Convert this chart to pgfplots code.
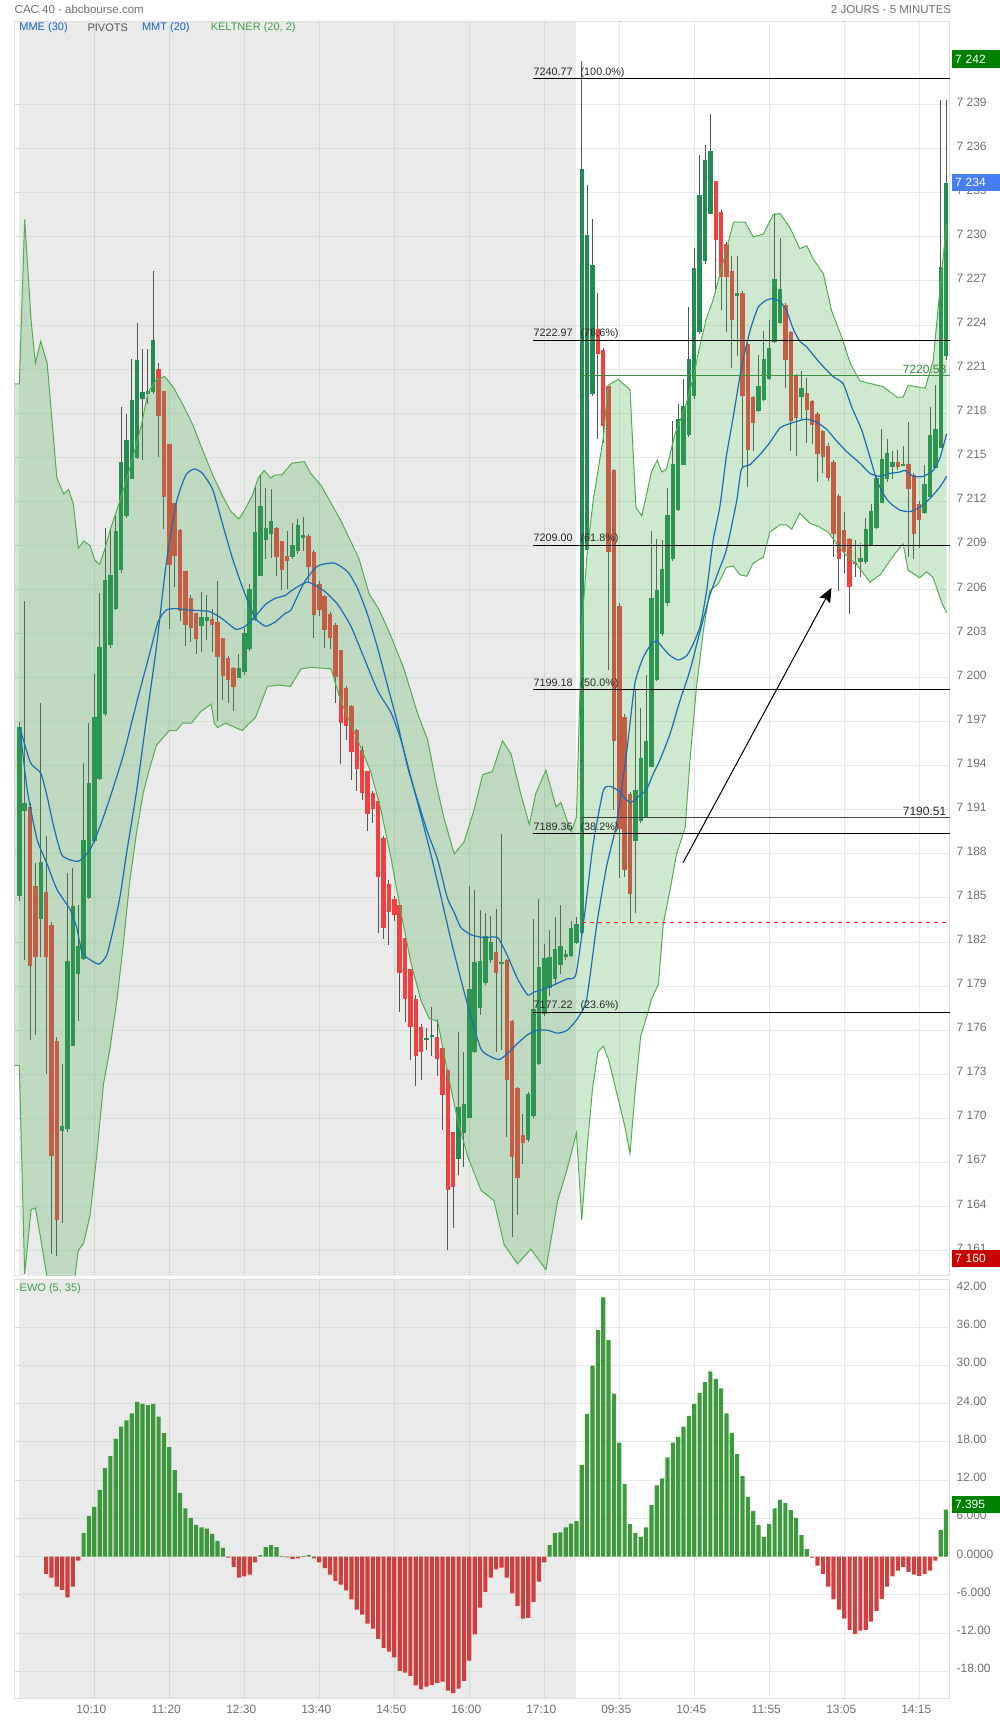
\documentclass[border=0pt]{standalone}
\usepackage{fontspec}
\setmainfont{Liberation Sans}
\usepackage{pgfplots}
\usepackage{pgfplotstable}
\pgfplotsset{compat=1.18}
\usetikzlibrary{arrows.meta}

\definecolor{dayone}{RGB}{234,234,234}
\definecolor{gridg}{RGB}{204,223,204}
\definecolor{gridh}{RGB}{214,227,214}
\definecolor{gridw}{RGB}{232,232,232}
\definecolor{frame}{RGB}{222,222,222}
\definecolor{candup}{RGB}{36,140,82}
\definecolor{canddn}{RGB}{240,64,64}
\definecolor{wick}{RGB}{85,85,85}
\definecolor{kelt}{RGB}{76,175,80}
\definecolor{keltline}{RGB}{84,172,84}
\definecolor{mmblue}{RGB}{28,110,180}
\definecolor{ticktext}{RGB}{112,112,112}
\definecolor{fibtext}{RGB}{40,40,40}
\definecolor{ewogreen}{RGB}{40,145,40}
\definecolor{ewored}{RGB}{205,45,45}
\definecolor{legblue}{RGB}{21,101,192}
\definecolor{leggreen}{RGB}{67,160,71}
\definecolor{boxgreen}{RGB}{0,128,0}
\definecolor{boxblue}{RGB}{70,125,245}
\definecolor{boxred}{RGB}{200,0,0}

\newcommand{\tickfont}{\fontsize{6pt}{7pt}\selectfont}
\newcommand{\legfont}{\fontsize{5.5pt}{6.5pt}\selectfont}
\newcommand{\fibfont}{\fontsize{5.4pt}{6.4pt}\selectfont}
\newcommand{\titlefont}{\fontsize{5.75pt}{6.75pt}\selectfont}

\pgfplotsset{
  candle/.style={only marks, mark=*, mark size=0pt, mark options={draw opacity=0, fill opacity=0},
    error bars/.cd, y dir=both, y explicit, error mark=none},
}

% candles, close >= open
\pgfplotstableread{
i o h l c
0 7185.2 7197.0 7184.8 7196.7
1 7191.0 7205.3 7180.9 7191.6
4 7183.6 7198.4 7181.1 7187.5
8 7169.3 7173.7 7162.9 7169.6
9 7169.4 7186.8 7169.2 7180.8
10 7175.1 7187.0 7174.9 7184.6
11 7179.9 7184.7 7176.8 7181.8
12 7181.0 7194.3 7180.9 7189.1
13 7185.0 7196.9 7184.9 7192.8
14 7189.0 7200.4 7188.9 7197.5
15 7193.2 7205.8 7193.1 7202.2
16 7197.7 7210.3 7197.5 7206.8
17 7202.3 7210.3 7202.2 7207.1
18 7204.7 7211.0 7204.6 7210.0
19 7207.4 7218.6 7207.3 7214.7
20 7211.0 7218.0 7210.9 7216.2
21 7213.6 7221.7 7213.5 7219.0
22 7215.0 7224.2 7214.9 7221.7
23 7219.0 7222.5 7214.9 7219.5
24 7219.3 7222.5 7218.7 7219.5
25 7219.5 7227.8 7219.4 7223.0
34 7203.6 7205.9 7201.8 7204.2
35 7203.9 7205.7 7202.6 7204.2
41 7200.1 7201.6 7200.0 7200.8
42 7200.4 7203.5 7200.3 7203.1
43 7202.0 7206.5 7201.9 7206.1
44 7204.0 7213.0 7203.9 7210.0
45 7207.1 7213.8 7207.0 7211.8
46 7209.4 7213.0 7208.2 7210.2
47 7209.8 7212.9 7208.2 7210.7
51 7208.2 7210.6 7208.1 7209.0
52 7208.6 7210.9 7208.5 7210.4
53 7209.6 7211.0 7208.7 7209.8
76 7175.5 7176.2 7174.7 7175.6
77 7175.6 7177.6 7174.3 7175.7
82 7167.4 7176.0 7166.3 7170.9
83 7169.1 7174.6 7166.8 7171.1
84 7170.1 7185.8 7170.0 7178.9
85 7174.6 7185.6 7174.5 7180.7
86 7177.6 7184.2 7177.1 7180.8
87 7179.2 7184.0 7179.1 7182.4
88 7180.8 7183.9 7180.7 7182.0
90 7180.7 7189.4 7174.7 7180.8
95 7168.6 7171.9 7168.5 7171.7
96 7170.2 7183.6 7170.1 7177.5
97 7173.8 7185.0 7173.7 7180.4
98 7177.1 7181.9 7177.0 7180.9
99 7178.9 7182.9 7178.4 7181.0
100 7179.5 7183.8 7179.2 7181.5
101 7180.5 7184.6 7179.9 7181.8
102 7181.0 7181.5 7180.8 7181.2
103 7181.1 7183.5 7181.0 7183.0
104 7182.1 7183.8 7182.0 7183.4
105 7182.7 7242.1 7182.6 7234.7
106 7208.7 7233.7 7208.6 7230.1
107 7219.4 7231.3 7219.3 7228.2
115 7188.8 7199.4 7184.1 7192.3
116 7190.3 7198.0 7190.2 7194.6
117 7190.6 7200.2 7190.5 7195.8
118 7194.1 7210.0 7194.0 7205.6
119 7199.9 7209.5 7199.8 7206.0
120 7203.0 7209.4 7202.9 7207.4
121 7205.1 7213.0 7205.0 7211.1
122 7208.1 7217.5 7208.0 7214.6
123 7211.5 7218.7 7211.4 7217.7
124 7214.6 7220.4 7214.5 7218.6
125 7216.5 7225.3 7216.4 7221.7
126 7219.2 7229.4 7219.1 7227.9
127 7223.6 7235.7 7223.5 7232.9
128 7228.3 7236.3 7228.2 7235.2
129 7231.7 7238.4 7231.6 7236.0
134 7226.1 7228.8 7222.0 7226.3
138 7218.2 7222.0 7218.1 7219.9
139 7219.0 7223.7 7218.9 7221.8
140 7220.4 7224.4 7220.3 7222.5
141 7222.9 7231.7 7222.8 7227.2
142 7224.3 7230.1 7224.2 7226.6
146 7219.1 7220.9 7217.6 7219.7
157 7207.8 7209.2 7206.9 7208.1
158 7208.0 7211.0 7207.9 7210.3
159 7209.1 7211.9 7209.0 7211.4
160 7210.3 7213.8 7210.2 7213.7
161 7212.0 7216.9 7211.9 7215.0
162 7213.6 7216.4 7213.5 7215.4
163 7214.5 7215.5 7213.6 7214.8
165 7214.6 7215.8 7214.5 7214.7
169 7211.3 7214.5 7211.2 7213.3
170 7212.3 7218.5 7212.2 7216.5
171 7214.4 7220.0 7214.3 7217.0
172 7215.8 7239.3 7215.7 7228.1
173 7221.9 7239.5 7221.8 7233.7
}\candup

% candles, close < open
\pgfplotstableread{
i o h l c
2 7191.3 7191.5 7175.4 7180.5
3 7185.9 7187.5 7175.8 7181.1
5 7185.5 7189.2 7173.0 7181.1
6 7183.2 7183.4 7160.8 7167.5
7 7175.4 7175.6 7160.7 7163.2
26 7221.1 7221.5 7215.1 7217.9
27 7219.5 7219.6 7210.2 7212.3
28 7215.9 7216.0 7203.4 7207.7
29 7211.9 7212.0 7206.3 7208.3
30 7210.1 7210.2 7203.9 7204.6
31 7207.3 7207.4 7202.3 7203.6
32 7205.5 7205.6 7202.4 7203.5
33 7204.5 7204.6 7201.8 7202.7
36 7204.1 7204.8 7201.9 7203.7
37 7203.9 7206.6 7197.1 7201.5
38 7202.7 7202.8 7198.6 7200.1
39 7201.4 7201.5 7198.3 7199.9
40 7200.7 7200.8 7197.8 7199.4
48 7210.2 7210.3 7207.0 7208.2
49 7209.3 7209.4 7206.1 7207.3
50 7208.3 7210.0 7206.1 7208.0
54 7209.7 7209.8 7206.5 7207.6
55 7208.7 7208.8 7202.8 7204.4
56 7206.5 7206.6 7204.2 7204.7
57 7205.6 7205.7 7202.1 7203.3
58 7204.4 7204.5 7202.0 7202.8
59 7203.7 7203.8 7198.3 7200.2
60 7201.9 7202.0 7194.2 7196.9
61 7199.4 7199.5 7195.8 7196.8
62 7198.1 7198.2 7193.1 7195.0
63 7196.5 7196.6 7192.4 7193.8
64 7195.2 7195.3 7191.6 7192.3
65 7193.7 7193.8 7189.7 7190.8
66 7192.3 7192.4 7190.2 7191.2
67 7191.7 7191.8 7182.7 7186.5
68 7189.1 7189.2 7182.2 7183.0
69 7186.1 7186.2 7181.8 7184.2
70 7185.1 7185.2 7183.5 7184.0
71 7184.6 7184.7 7177.2 7180.0
72 7182.3 7182.4 7176.7 7178.2
73 7180.2 7180.3 7174.1 7176.3
74 7178.3 7178.4 7172.2 7174.4
75 7176.4 7176.5 7172.7 7174.7
78 7175.7 7176.8 7172.9 7174.2
79 7174.9 7175.0 7169.2 7171.7
80 7173.3 7173.4 7161.1 7165.1
81 7169.1 7169.2 7162.7 7165.4
89 7181.4 7184.4 7174.7 7180.0
91 7180.8 7180.9 7168.8 7172.6
92 7176.7 7176.8 7162.0 7167.4
93 7172.1 7172.2 7163.5 7166.0
94 7169.0 7170.3 7166.9 7168.4
108 7223.8 7226.2 7216.3 7222.1
109 7222.4 7222.5 7216.0 7217.2
110 7219.9 7220.0 7200.7 7208.6
111 7214.2 7214.3 7191.1 7195.8
112 7205.0 7205.1 7186.4 7189.8
113 7197.4 7197.5 7186.4 7187.0
114 7192.2 7192.3 7183.5 7185.4
130 7233.8 7233.9 7226.3 7229.8
131 7231.8 7231.9 7225.1 7227.4
132 7229.6 7229.7 7223.6 7227.3
133 7227.7 7228.8 7221.2 7224.4
135 7226.3 7226.4 7214.4 7219.3
136 7222.7 7222.8 7213.0 7215.5
137 7219.1 7219.2 7215.5 7217.3
143 7225.5 7225.6 7219.8 7221.8
144 7223.6 7223.7 7215.5 7217.5
145 7220.6 7220.7 7215.1 7217.7
147 7219.4 7220.5 7216.1 7218.3
148 7218.9 7219.0 7216.0 7217.3
149 7218.1 7218.2 7213.4 7215.4
150 7216.8 7216.9 7214.0 7215.0
151 7215.9 7216.0 7213.4 7213.7
152 7214.8 7214.9 7208.3 7209.9
153 7212.4 7212.5 7205.9 7208.1
154 7210.2 7211.4 7207.2 7208.7
155 7209.5 7209.6 7204.4 7206.2
156 7207.9 7209.4 7206.9 7207.8
164 7214.7 7215.6 7214.2 7214.4
166 7214.7 7217.5 7208.3 7213.0
167 7213.9 7214.0 7208.2 7209.9
168 7211.9 7212.0 7208.8 7210.8
}\canddn

% Keltner (20, 2) upper band
\pgfplotstableread{
x y
-0.9 7220.0
0 7220.0
1 7231.2
2.2 7224.3
3 7221.4
4 7222.9
5.2 7221.4
7 7213.6
8.3 7212.5
9.2 7212.8
10.1 7211.8
11 7208.8
12 7209.3
13.2 7209.0
14.1 7208.0
15 7207.7
16 7208.8
17 7210.1
18.2 7211.4
19.7 7213.1
21.2 7215.0
22.8 7217.2
24 7219.4
25.6 7220.3
27.1 7220.5
28.7 7219.8
30.5 7218.6
32.4 7217.2
34.2 7215.5
36.1 7213.8
37.9 7212.4
39.5 7211.3
41 7210.8
42.2 7211.5
43.5 7212.4
44.6 7213.6
45.7 7214.1
46.9 7213.6
47.8 7213.8
49 7213.8
50.9 7214.6
53.2 7214.7
54.4 7213.9
56.3 7213.1
60 7210.7
63.4 7208.1
65.3 7205.7
67.2 7204.6
69.4 7202.8
71.8 7200.6
74.3 7197.6
76.2 7195.8
77.8 7192.8
79.3 7190.4
81.2 7188.0
83 7188.8
84.9 7191.0
86.5 7193.4
88.3 7193.6
90.2 7195.7
91.8 7194.8
93.6 7192.1
95.2 7190.0
96.4 7192.1
98.3 7193.7
100.2 7191.2
101.1 7191.5
103 7189.5
104 7190.5
105 7203.5
106 7208.5
107.1 7212.0
109 7216.3
109.9 7219.9
111.8 7220.3
114 7219.6
115.1 7211.6
116.2 7211.0
118 7214.0
119.1 7214.8
119.9 7214.0
120.8 7214.2
122.4 7216.6
124.3 7218.4
125.8 7220.4
127.1 7222.7
128.3 7224.5
129.5 7225.7
131.4 7228.3
133.3 7231.0
135.5 7231.0
137 7230.0
138.9 7230.2
140.7 7231.5
142 7231.6
143.9 7230.6
145.7 7229.2
147 7229.4
148.2 7228.5
150.1 7227.5
151.6 7225.0
153.5 7223.2
155.1 7221.4
156.9 7220.2
159.1 7220.0
161.3 7219.8
163.8 7219.1
165 7219.1
165.9 7219.9
167.5 7219.8
169.1 7219.7
170.6 7221.6
171.9 7226.6
173.1 7230.9
}\kup

% Keltner (20, 2) lower band, listed right to left so that it closes the band outline
\pgfplotstableread{
x y
173.1 7204.4
172.2 7205.1
170.6 7206.8
169.4 7207.2
168.1 7206.8
165.9 7207.3
165 7209.1
163.8 7208.6
162.2 7207.8
160.7 7207.0
158.8 7206.5
156.3 7207.7
154.4 7208.3
152.6 7209.1
151 7209.9
149.1 7210.3
147.6 7210.5
145.7 7211.2
144.2 7210.1
143.2 7210.4
142 7210.4
140.1 7209.9
138.9 7208.2
137 7207.8
135.8 7206.9
134.5 7207.0
133.3 7207.6
132 7207.5
130.5 7206.4
128.9 7205.9
127.7 7203.2
126.4 7199.3
125.2 7194.4
124.3 7189.8
122.7 7188.0
121.5 7185.6
120.2 7183.2
119.3 7179.1
118 7178.1
117 7176.8
116 7175.6
115 7172.0
114 7167.6
113 7169.5
112 7171.0
111 7172.5
110 7174.0
109 7174.9
108 7174.5
107 7172.0
106 7168.0
105 7163.1
104 7169.0
102.3 7166.6
100.5 7164.4
98.3 7159.7
95.5 7161.1
93 7160.1
90.5 7161.4
88.6 7164.4
86.2 7165.1
83.7 7167.4
81.8 7169.9
79.9 7173.2
78.1 7176.6
76.5 7176.8
75 7178.0
73.1 7180.6
71.2 7184.1
69.4 7187.7
67.5 7191.0
65.6 7193.6
63.1 7195.8
60 7198.4
58.2 7200.6
54.4 7200.7
52.6 7200.6
50.6 7199.4
48.4 7199.5
46.3 7199.4
44.1 7197.3
41.6 7196.4
38.5 7196.9
37 7196.6
36.4 7196.9
35.8 7198.2
33.9 7197.7
32.1 7196.9
30.5 7196.9
29.3 7196.4
28 7196.4
26.8 7195.9
25.6 7195.4
24.3 7193.8
23.1 7192.1
21.9 7189.5
20.6 7186.1
19.4 7181.8
18.2 7178.0
16.9 7174.7
15.7 7172.3
14.4 7167.3
13.2 7163.4
12 7161.5
11 7161.0
10.4 7159.3
8.5 7157.2
6.5 7157.6
5.2 7159.1
4 7161.8
3 7163.9
2.2 7163.8
1 7159.4
0 7173.6
-0.9 7173.6
}\klo

\pgfplotstablevertcat{\kband}{\kup}
\pgfplotstablevertcat{\kband}{\klo}

% the two moving averages
\pgfplotstableread{
x y
0.1 7196.6
2.1 7194.2
4 7193.5
5.2 7191.9
6.4 7189.9
8 7187.9
11 7187.5
13.2 7188.3
15.1 7189.9
16.9 7191.8
19.4 7194.7
21.9 7198.3
24.3 7201.6
25.9 7203.8
27.4 7204.6
29.3 7204.7
31.7 7204.6
35.5 7204.5
37.9 7204.0
40.4 7203.3
42.2 7203.5
44.1 7204.2
46 7205.0
47.8 7205.4
49.7 7205.6
50.7 7205.9
53.8 7206.5
56.9 7205.9
59.4 7205.0
61.9 7203.5
64.4 7201.3
66.9 7199.1
69.4 7197.6
71.2 7195.8
73.1 7193.2
75 7190.6
76.8 7188.0
78.7 7185.1
80.6 7182.1
82.4 7179.5
84.3 7176.9
86.2 7174.7
88 7174.2
89.6 7174.0
91.1 7174.4
93 7175.1
94.9 7175.7
96.7 7176.0
98.6 7176.0
100.5 7175.8
102.3 7176.0
104.2 7176.8
105.9 7178.1
107.8 7183.2
109.6 7187.1
111.5 7190.1
113.4 7195.0
114.9 7199.6
116.5 7201.4
118 7202.3
119 7202.5
120.2 7202.0
121.5 7201.5
123 7201.2
124.6 7201.5
125.8 7202.3
127.1 7203.5
128.3 7205.9
129.5 7209.3
130.8 7211.7
132 7215.1
133.3 7217.8
134.8 7221.1
136.4 7223.6
137.9 7225.2
139.5 7225.7
140.7 7225.8
142 7225.6
143.2 7225.0
144.5 7223.7
145.7 7222.9
147 7222.5
149.5 7221.4
151.9 7220.5
153.8 7220.0
155.4 7218.4
157.2 7216.9
158.8 7215.0
160 7213.5
161.3 7212.5
162.5 7211.9
164.4 7211.4
166.3 7211.3
168.1 7211.6
170 7212.2
171.9 7213.0
173.1 7213.7
}\mmone

\pgfplotstableread{
x y
0.1 7196.6
1.5 7192.3
3.3 7189.0
5.2 7187.3
7 7185.6
9.5 7184.2
10.7 7183.0
11.7 7181.3
13.2 7180.8
14.9 7180.5
16.3 7181.1
17.5 7182.8
18.8 7185.1
20 7188.0
21.9 7192.3
23.7 7197.1
25.6 7202.1
27.4 7207.7
29.3 7211.9
31.1 7213.8
32.7 7214.2
34.2 7213.9
36.1 7212.8
37.9 7210.5
39.8 7208.1
41.6 7206.2
42.9 7205.0
44.1 7204.0
46 7203.5
47.8 7203.8
49.7 7204.4
50.7 7204.6
53.2 7206.5
55.7 7207.6
58.8 7207.8
61.3 7207.2
63.1 7206.1
65 7204.3
66.9 7202.0
68.7 7199.5
70.6 7196.9
72.5 7193.9
74.3 7191.7
76.2 7189.5
78.1 7187.6
79.9 7185.0
81.2 7184.0
82.4 7183.0
84.3 7182.5
86.8 7182.3
89.3 7182.3
91.2 7181.0
93 7179.5
94.9 7178.4
96.1 7178.6
98 7178.8
100.5 7179.2
102.3 7179.5
103.9 7179.8
105.6 7184.1
107.1 7188.6
109 7192.3
110.3 7192.6
111.8 7192.3
114 7191.5
115.9 7192.0
117.1 7192.4
118.4 7193.5
119.6 7194.4
121.5 7196.2
123.3 7198.4
125.2 7200.5
127.1 7203.2
128.9 7205.6
130.8 7207.5
132 7208.7
133.9 7212.0
134.8 7214.2
136.4 7214.5
138.3 7215.2
140.1 7216.0
142 7217.0
143.9 7217.3
145.7 7217.5
147 7217.6
148.8 7217.4
150.7 7216.9
152.6 7216.1
154.4 7215.4
156.9 7214.6
158.8 7213.9
160.7 7213.7
162.5 7213.9
164.4 7214.0
165.3 7214.1
166.9 7213.7
168.7 7213.7
170.6 7214.1
171.9 7215.0
173.1 7216.6
}\mmtwo

% EWO (5, 35)
\pgfplotstableread{
i v
12 3.7
13 6.4
14 7.8
15 10.5
16 13.9
17 15.8
18 18.5
19 20.4
20 21.4
21 22.5
22 24.3
23 24.0
24 23.8
25 24.0
26 22.0
27 19.4
28 17.2
29 13.6
30 10.0
31 7.6
32 6.1
33 5.0
34 4.6
35 4.4
36 3.6
37 2.5
38 1.4
45 0.26
46 1.5
47 1.8
48 1.5
49 0.1
53 0.1
54 0.26
99 1.8
100 3.7
101 3.8
102 4.6
103 5.2
104 5.6
105 14.4
106 22.4
107 30.0
108 35.6
109 40.7
110 34.0
111 25.6
112 17.9
113 11.4
114 5.1
115 3.7
116 3.1
117 4.6
118 8.1
119 11.2
120 12.3
121 15.6
122 17.9
123 18.8
124 20.4
125 22.1
126 24.0
127 25.7
128 27.4
129 29.1
130 27.9
131 26.4
132 22.5
133 19.4
134 16.1
135 12.7
136 9.4
137 7.2
138 5.0
139 3.1
140 5.1
141 7.6
142 8.9
143 8.4
144 7.3
145 6.1
146 3.4
147 1.2
172 4.2
173 7.395
}\ewopos

\pgfplotstableread{
i v
5 -2.7
6 -3.3
7 -4.7
8 -5.2
9 -6.4
10 -4.7
11 -0.6
39 -0.15
40 -1.6
41 -3.3
42 -3.1
43 -2.8
44 -0.9
50 -0.1
51 -0.4
52 -0.26
55 -0.26
56 -0.9
57 -1.8
58 -2.8
59 -3.8
60 -4.4
61 -5.3
62 -6.7
63 -8.3
64 -9.1
65 -10.5
66 -11.3
67 -12.9
68 -14.3
69 -14.9
70 -15.8
71 -17.9
72 -18.2
73 -18.7
74 -20.2
75 -20.8
76 -20.4
77 -20.1
78 -19.8
79 -19.6
80 -21.0
81 -21.4
82 -20.7
83 -19.5
84 -16.3
85 -12.2
86 -8.0
87 -5.5
88 -3.3
89 -2.0
90 -1.7
91 -3.3
92 -5.75
93 -7.7
94 -9.7
95 -9.6
96 -7.1
97 -3.9
98 -0.9
148 -0.15
149 -1.4
150 -2.7
151 -4.7
152 -6.7
153 -8.3
154 -9.7
155 -11.5
156 -12.1
157 -11.6
158 -11.5
159 -10.2
160 -8.5
161 -6.6
162 -4.7
163 -3.1
164 -2.2
165 -1.6
166 -2.4
167 -2.8
168 -3.0
169 -2.7
170 -2.2
171 -0.6
}\eweneg

\begin{document}
\begin{tikzpicture}
\fill[white] (0,0) rectangle (500pt,860pt);

% ---- price panel ----
\begin{axis}[
  at={(7.25pt,849.15pt)}, anchor=north west,
  scale only axis, width=467.55pt, height=627.15pt,
  xmin=-0.9, xmax=173.66, ymin=7159.27, ymax=7244.65,
  clip mode=individual,
  axis line style={draw=frame, line width=0.5pt},
  major tick length=0pt,
  xtick=\empty,
  ytick={7161,7164,...,7239},
  yticklabel pos=right,
  scaled y ticks=false,
  y tick label style={/pgf/number format/fixed, /pgf/number format/precision=0,
    /pgf/number format/1000 sep={\ }, /pgf/number format/assume math mode=true},
  yticklabel style={font=\tickfont, text=ticktext, anchor=west, inner sep=0pt, xshift=3.3pt, yshift=1.3pt},
]
\fill[dayone] (axis cs:0,7159.27) rectangle (axis cs:104,7244.65);
\pgfplotsinvokeforeach{7161,7164,...,7239}{
  \draw[gridh, line width=0.5pt] (axis cs:-0.9,#1) -- (axis cs:104,#1);
  \draw[gridw, line width=0.5pt] (axis cs:104,#1) -- (axis cs:173.66,#1);
}
\pgfplotsinvokeforeach{14,28,...,98}{
  \draw[gridg, line width=0.5pt] (axis cs:#1,7159.27) -- (axis cs:#1,7244.65);
}
\pgfplotsinvokeforeach{112,126,...,168}{
  \draw[gridw, line width=0.5pt] (axis cs:#1,7159.27) -- (axis cs:#1,7244.65);
}

% wicks
\addplot [candle, error bar style={line width=0.5pt, color=wick}]
  table [x=i, y expr={(\thisrow{h}+\thisrow{l})/2}, y error expr={(\thisrow{h}-\thisrow{l})/2}] {\candup};
\addplot [candle, error bar style={line width=0.5pt, color=wick}]
  table [x=i, y expr={(\thisrow{h}+\thisrow{l})/2}, y error expr={(\thisrow{h}-\thisrow{l})/2}] {\canddn};
% bodies
\addplot [candle, error bar style={line width=2.2pt, color=candup}]
  table [x=i, y expr={(\thisrow{o}+\thisrow{c})/2}, y error expr={max(abs(\thisrow{c}-\thisrow{o})/2,0.05)}] {\candup};
\addplot [candle, error bar style={line width=2.2pt, color=canddn}]
  table [x=i, y expr={(\thisrow{o}+\thisrow{c})/2}, y error expr={max(abs(\thisrow{c}-\thisrow{o})/2,0.05)}] {\canddn};

% Keltner band drawn over the candles
\addplot [fill=kelt, fill opacity=0.27, draw=none] table {\kband};
\addplot [keltline, line width=0.5pt] table {\kup};
\addplot [keltline, line width=0.5pt] table {\klo};

% moving averages
\addplot [mmblue, line width=0.6pt, smooth, tension=0.35] table {\mmone};
\addplot [mmblue, line width=0.6pt, smooth, tension=0.35] table {\mmtwo};

% retracement levels
\draw[black, line width=0.5pt] (axis cs:95.8,7240.77) -- (axis cs:173.66,7240.77);
\draw[black, line width=0.5pt] (axis cs:95.8,7222.97) -- (axis cs:173.66,7222.97);
\draw[black, line width=0.5pt] (axis cs:95.8,7209.00) -- (axis cs:173.66,7209.00);
\draw[black, line width=0.5pt] (axis cs:95.8,7199.18) -- (axis cs:173.66,7199.18);
\draw[black, line width=0.5pt] (axis cs:95.8,7189.36) -- (axis cs:173.66,7189.36);
\draw[black, line width=0.5pt] (axis cs:95.8,7177.22) -- (axis cs:173.66,7177.22);
\draw[black!75, line width=0.5pt] (axis cs:105,7190.51) -- (axis cs:173.66,7190.51);
\draw[leggreen!90!black, line width=0.5pt] (axis cs:105,7220.58) -- (axis cs:173.66,7220.58);
\draw[red!85!white, line width=0.5pt, dash pattern=on 2pt off 2pt] (axis cs:105,7183.3) -- (axis cs:173.1,7183.3);

\begin{scope}[every node/.style={anchor=south west, inner xsep=0.3pt, inner ysep=0.5pt, font=\fibfont, text=fibtext}]
\node at (axis cs:95.8,7240.77) {7240.77\hspace{0.75em}(100.0\%)};
\node at (axis cs:95.8,7222.97) {7222.97\hspace{0.75em}(78.6\%)};
\node at (axis cs:95.8,7209.00) {7209.00\hspace{0.75em}(61.8\%)};
\node at (axis cs:95.8,7199.18) {7199.18\hspace{0.75em}(50.0\%)};
\node at (axis cs:95.8,7189.36) {7189.36\hspace{0.75em}(38.2\%)};
\node at (axis cs:95.8,7177.22) {7177.22\hspace{0.75em}(23.6\%)};
\end{scope}
\node[anchor=south east, inner xsep=0pt, inner ysep=0.5pt, font=\tickfont, text=fibtext] at (axis cs:173.1,7190.51) {7190.51};
\node[anchor=south east, inner xsep=0pt, inner ysep=0.5pt, font=\tickfont, text=leggreen!85!black] at (axis cs:173.1,7220.58) {7220.58};

\draw[black, line width=0.5pt, -{Stealth[length=7pt, width=6pt, inset=1pt]}] (axis cs:123.9,7187.4) -- (axis cs:151.6,7206.1);
\end{axis}

% ---- EWO panel ----
\begin{axis}[
  at={(7.25pt,220pt)}, anchor=north west,
  scale only axis, width=467.55pt, height=209.15pt,
  xmin=-0.9, xmax=173.66, ymin=-22.22, ymax=43.42,
  clip mode=individual,
  axis line style={draw=frame, line width=0.5pt},
  major tick length=0pt,
  xtick={14,28,...,168},
  xticklabels={10:10,11:20,12:30,13:40,14:50,16:00,17:10,09:35,10:45,11:55,13:05,14:15},
  x tick label style={font=\tickfont, text=ticktext, anchor=north, inner sep=0pt, yshift=-3.2pt, xshift=-1.5pt},
  ytick={-18,-12,...,42},
  yticklabels={-18.00,-12.00,-6.000,0.0000,6.000,12.00,18.00,24.00,30.00,36.00,42.00},
  yticklabel pos=right,
  yticklabel style={font=\tickfont, text=ticktext, anchor=west, inner sep=0pt, xshift=3.3pt, yshift=1.4pt},
]
\fill[dayone] (axis cs:0,-22.22) rectangle (axis cs:104,43.42);
\pgfplotsinvokeforeach{-18,-12,...,42}{
  \draw[gridh, line width=0.5pt] (axis cs:-0.9,#1) -- (axis cs:104,#1);
  \draw[gridw, line width=0.5pt] (axis cs:104,#1) -- (axis cs:173.66,#1);
}
\pgfplotsinvokeforeach{14,28,...,98}{
  \draw[gridg, line width=0.5pt] (axis cs:#1,-22.22) -- (axis cs:#1,43.42);
}
\pgfplotsinvokeforeach{112,126,...,168}{
  \draw[gridw, line width=0.5pt] (axis cs:#1,-22.22) -- (axis cs:#1,43.42);
}
\addplot [ybar, bar width=0.78, bar shift=0pt, fill=ewogreen, fill opacity=0.9, draw=none] table [x=i, y=v] {\ewopos};
\addplot [ybar, bar width=0.78, bar shift=0pt, fill=ewored, fill opacity=0.9, draw=none] table [x=i, y=v] {\eweneg};
\end{axis}

% ---- texts and value boxes ----
\node[anchor=west, inner sep=0pt, font=\titlefont, text=ticktext] at (7.15pt,855.35pt) {CAC 40 - abcbourse.com};
\node[anchor=east, inner sep=0pt, font=\titlefont, text=ticktext] at (475.75pt,855.35pt) {2 JOURS - 5 MINUTES};
\node[anchor=west, inner sep=0pt, font=\legfont, text=legblue] at (9.5pt,846.3pt) {MME (30)};
\node[anchor=west, inner sep=0pt, font=\legfont, text=black!65] at (43.6pt,846.3pt) {PIVOTS};
\node[anchor=west, inner sep=0pt, font=\legfont, text=legblue] at (70.8pt,846.3pt) {MMT (20)};
\node[anchor=west, inner sep=0pt, font=\legfont, text=leggreen] at (105.2pt,846.3pt) {KELTNER (20, 2)};
\node[anchor=west, inner sep=0pt, font=\legfont, text=leggreen] at (9.65pt,215.8pt) {EWO (5, 35)};

\begin{scope}[every node/.style={overlay, anchor=west, text=white, font=\tickfont, inner xsep=1.5pt, inner ysep=0pt, minimum height=8.75pt, text width=21.2pt, align=left}]
\node[fill=boxgreen] at (475.8pt,830.4pt) {7 242};
\node[fill=boxblue] at (475.8pt,768.7pt) {7 234};
\node[fill=boxred] at (475.8pt,230.7pt) {7 160};
\node[fill=boxgreen] at (475.8pt,107.65pt) {7.395};
\end{scope}
\end{tikzpicture}
\end{document}
